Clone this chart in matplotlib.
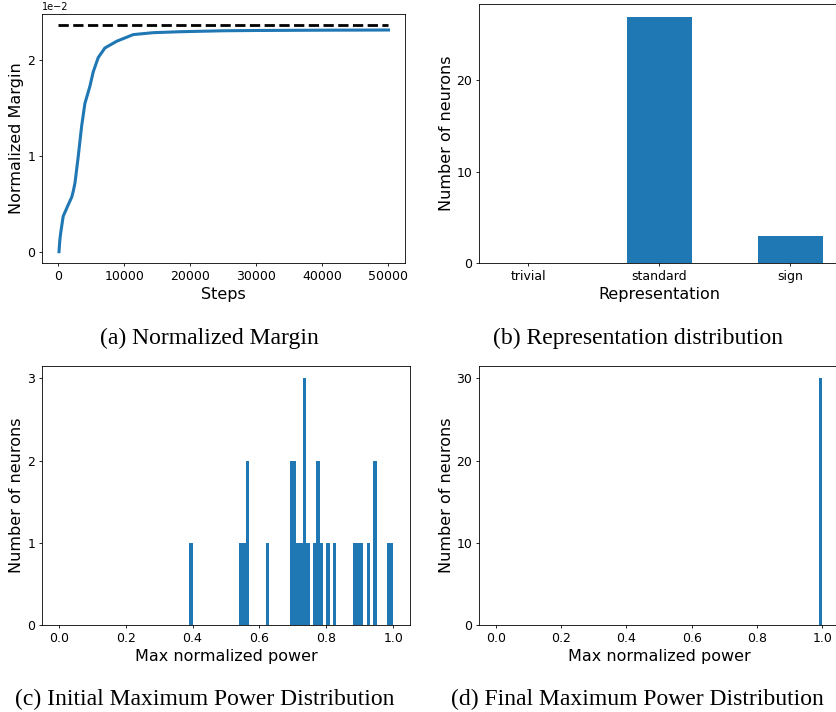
import numpy as np
import matplotlib
matplotlib.use("Agg")
import matplotlib.pyplot as plt
from matplotlib.ticker import MultipleLocator

# (a) normalized margin vs steps (values in units of 1e-2)
steps = [76, 200, 320, 710, 1470, 2000, 2230, 2500, 2750, 2980, 3500, 4000, 4760,
         5260, 6020, 7030, 8800, 11320, 14350, 18400, 25000, 30000, 40000, 50000]
margin = [0.0, 0.12, 0.19, 0.37, 0.49, 0.57, 0.63, 0.72, 0.86, 0.99, 1.31, 1.55,
          1.73, 1.88, 2.03, 2.13, 2.20, 2.27, 2.29, 2.30, 2.31, 2.313, 2.316, 2.318]
margin_max = 2.367

# (b) representation distribution
rep_names = ["trivial", "standard", "sign"]
rep_counts = [0, 27, 3]

# (c) initial max normalized power: histogram bin index (width 0.01) -> count
init_bins = [39, 54, 55, 56, 62, 69, 70, 71, 72, 73, 74, 76, 77, 78, 80, 82,
             88, 89, 90, 92, 94, 98, 99]
init_counts = [1, 1, 1, 2, 1, 2, 2, 1, 1, 3, 1, 1, 2, 1, 1, 1,
               1, 1, 1, 1, 2, 1, 1]

# (d) final max normalized power
final_values = [1.0] * 30

plt.rcParams["axes.linewidth"] = 0.6
plt.rcParams["xtick.major.size"] = 2.5
plt.rcParams["ytick.major.size"] = 2.5
plt.rcParams["xtick.major.width"] = 0.6
plt.rcParams["ytick.major.width"] = 0.6
plt.rcParams["xtick.major.pad"] = 2.5
plt.rcParams["ytick.major.pad"] = 2.5

W, H = 837, 712
fig = plt.figure(figsize=(W / 100, H / 100), dpi=100)

tick_fs = 9
lab_fs = 11.5
cap_fs = 17

def box(l, t, r, b):
    return [l / W, 1 - b / H, (r - l) / W, (b - t) / H]

#---------------- (a)
ax = fig.add_axes(box(42, 14, 405, 263))
ax.plot(steps, np.array(margin) * 1e-2, color="#1f77b4", lw=2.2)
ax.plot([0, 50000], [margin_max * 1e-2] * 2, "k--", lw=2)
ax.ticklabel_format(axis="y", style="sci", scilimits=(0, 0))
ax.yaxis.set_major_locator(MultipleLocator(0.01))
ax.xaxis.set_major_locator(MultipleLocator(10000))
ax.set_xlabel("Steps", fontsize=lab_fs, labelpad=3)
ax.set_ylabel("Normalized Margin", fontsize=lab_fs, labelpad=2)
ax.tick_params(labelsize=tick_fs)
ax.yaxis.get_offset_text().set_fontsize(7)

#---------------- (b)
ax = fig.add_axes(box(479.3, 4.3, 839.6, 263))
ax.bar(rep_names, rep_counts, width=0.5, color="#1f77b4")
ax.yaxis.set_major_locator(MultipleLocator(10))
ax.set_xlabel("Representation", fontsize=lab_fs, labelpad=3)
ax.set_ylabel("Number of neurons", fontsize=lab_fs, labelpad=2)
ax.tick_params(labelsize=tick_fs)

#---------------- (c)
edges = np.linspace(0, 1, 101)
init_values = np.repeat((np.array(init_bins) + 0.5) / 100, init_counts)
ax = fig.add_axes(box(42, 366, 410, 625))
ax.hist(init_values, bins=edges, color="#1f77b4")
ax.yaxis.set_major_locator(MultipleLocator(1))
ax.set_xlabel("Max normalized power", fontsize=lab_fs, labelpad=3)
ax.set_ylabel("Number of neurons", fontsize=lab_fs, labelpad=2)
ax.tick_params(labelsize=tick_fs)

#---------------- (d)
ax = fig.add_axes(box(479.3, 366, 838.7, 625))
ax.hist(final_values, bins=edges, color="#1f77b4")
ax.set_xlim(-0.05, 1.05)
ax.yaxis.set_major_locator(MultipleLocator(10))
ax.set_xlabel("Max normalized power", fontsize=lab_fs, labelpad=3)
ax.set_ylabel("Number of neurons", fontsize=lab_fs, labelpad=2)
ax.tick_params(labelsize=tick_fs)

# captions
cap = dict(fontsize=cap_fs, family="Liberation Serif", ha="center", va="center")
fig.text(209 / W, 1 - 338 / H, "(a) Normalized Margin", **cap)
fig.text(638 / W, 1 - 338 / H, "(b) Representation distribution", **cap)
fig.text(205 / W, 1 - 699 / H, "(c) Initial Maximum Power Distribution", **cap)
fig.text(637.5 / W, 1 - 699 / H, "(d) Final Maximum Power Distribution", **cap)

fig.savefig("out.png", dpi=100)
